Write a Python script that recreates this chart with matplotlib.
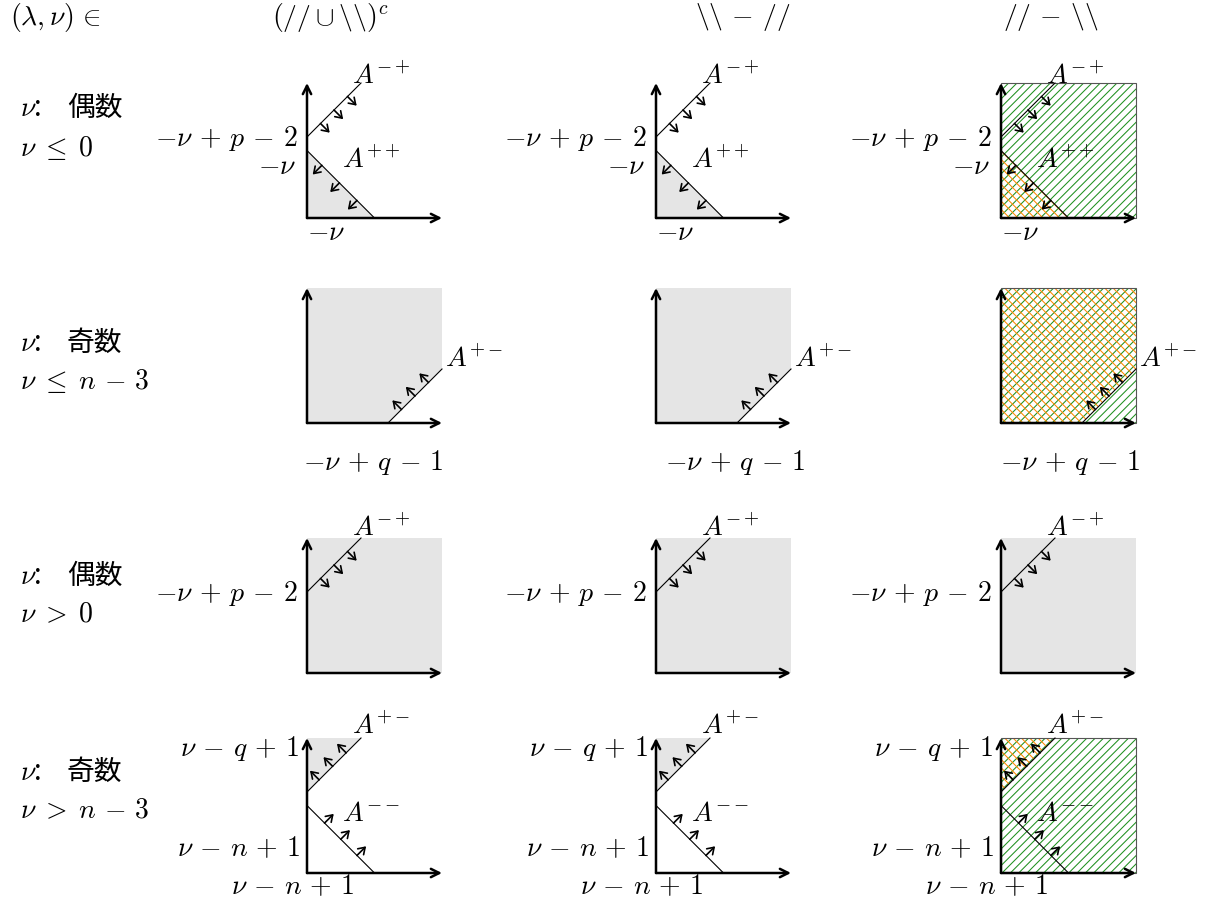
import matplotlib

matplotlib.use("Agg")

import matplotlib.pyplot as plt
from matplotlib.patches import FancyArrowPatch, Polygon, Rectangle

plt.rcParams["mathtext.fontset"] = "cm"
plt.rcParams["font.family"] = ["Noto Sans CJK JP", "DejaVu Sans"]
plt.rcParams["hatch.linewidth"] = 0.75

WIDTH, HEIGHT = 1212, 903
FONT_SIZE = 20

GRAY = "#e5e5e5"
GREEN = "#1f901f"
ORANGE = "#ff8800"

# En-têtes et libellés de lignes.
COLUMN_HEADERS = [
    r"$(//\cup\backslash\backslash)^c$",
    r"$\backslash\backslash\,-\,//$",
    r"$//\,-\,\backslash\backslash$",
]
ROW_PARITY = ["偶数", "奇数", "偶数", "奇数"]
ROW_CONDITIONS = [r"$\nu\;\leq\;0$", r"$\nu\;\leq\;n\,-\,3$",
                  r"$\nu\;>\;0$", r"$\nu\;>\;n\,-\,3$"]

# Droites des murs A^{..} dans chaque panneau (unités du carré 0..1) :
# (extrémité 1, extrémité 2, direction des petites flèches, abscisses des flèches)
ROW_WALLS = [
    [((0.0, 0.6), (0.4, 1.0), (1, -1), [0.1, 0.2, 0.3]),
     ((0.0, 0.5), (0.5, 0.0), (-1, -1), [0.11, 0.24, 0.37])],
    [((0.6, 0.0), (1.0, 0.4), (-1, 1), [0.7, 0.8, 0.9])],
    [((0.0, 0.6), (0.4, 1.0), (1, -1), [0.1, 0.2, 0.3])],
    [((0.0, 0.6), (0.4, 1.0), (-1, 1), [0.09, 0.19, 0.29]),
     ((0.0, 0.5), (0.5, 0.0), (1, 1), [0.13, 0.25, 0.37])],
]
ARROW_STEP = 0.068

# Région grisée (ou hachurée en orange dans la dernière colonne).
ROW_REGIONS = [
    [(0, 0), (0, 0.5), (0.5, 0)],
    [(0, 0), (0.6, 0), (1, 0.4), (1, 1), (0, 1)],
    [(0, 0), (1, 0), (1, 1), (0, 1)],
    [(0, 0.6), (0, 1), (0.4, 1)],
]
HATCHED_ROWS = [0, 1, 3]
HATCHED_COLUMN = 2

# Étiquettes : (texte, x, y, ha, va)
ROW_LABELS = [
    [(r"$-\nu\,+\,p\,-\,2$", -0.07, 0.6, "right", "center"),
     (r"$-\nu$", -0.08, 0.39, "right", "center"),
     (r"$-\nu$", 0.14, -0.1, "center", "center"),
     (r"$A^{-+}$", 0.33, 1.0, "left", "baseline"),
     (r"$A^{++}$", 0.26, 0.38, "left", "baseline")],
    [(r"$A^{+-}$", 1.02, 0.42, "left", "baseline")],
    [(r"$-\nu\,+\,p\,-\,2$", -0.07, 0.6, "right", "center"),
     (r"$A^{-+}$", 0.33, 1.02, "left", "baseline")],
    [(r"$\nu\,-\,q\,+\,1$", -0.06, 0.93, "right", "center"),
     (r"$\nu\,-\,n\,+\,1$", -0.05, 0.19, "right", "center"),
     (r"$\nu\,-\,n\,+\,1$", -0.11, -0.09, "center", "center"),
     (r"$A^{+-}$", 0.33, 1.04, "left", "baseline"),
     (r"$A^{--}$", 0.26, 0.39, "left", "baseline")],
]
BOTTOM_LABEL = r"$-\nu\,+\,q\,-\,1$"
BOTTOM_LABEL_ROW = 1
BOTTOM_LABEL_X = [0.49, 0.59, 0.51]

# Mise en page (pixels de l'image).
COLUMN_X = [307, 656, 1001]
ROW_Y = [219, 424, 674, 874]
SIDE = 135
HEADER_X = [330, 743, 1051]
HEADER_Y = 17
ROW_TEXT_X = 20
ROW_CJK_X = 67
ROW_TEXT_Y = [(108, 148), (343, 381), (576, 614), (772, 810)]


def fx(px):
    return px / WIDTH


def fy(py):
    return 1 - py / HEIGHT


def draw_arrow(ax, start, end, lw, scale, zorder, style="->"):
    ax.add_patch(FancyArrowPatch(
        start, end, arrowstyle=style, mutation_scale=scale, lw=lw,
        color="black", shrinkA=0, shrinkB=0, clip_on=False, zorder=zorder,
    ))


def draw_panel(fig, row, col):
    ax = fig.add_axes([fx(COLUMN_X[col]), fy(ROW_Y[row]), SIDE / WIDTH, SIDE / HEIGHT])
    ax.set_xlim(0, 1)
    ax.set_ylim(0, 1)
    ax.axis("off")

    hatched = row in HATCHED_ROWS and col == HATCHED_COLUMN
    if hatched:
        ax.add_patch(Rectangle((0, 0), 1, 1, facecolor="white", edgecolor=GREEN,
                               lw=0, hatch="////", clip_on=False, zorder=1))
        ax.add_patch(Polygon(ROW_REGIONS[row], closed=True, facecolor="none",
                             edgecolor=ORANGE, lw=0, hatch="\\\\\\\\",
                             clip_on=False, zorder=2))
        ax.add_patch(Rectangle((0, 0), 1, 1, facecolor="none", edgecolor="#555555",
                               lw=0.8, clip_on=False, zorder=3))
    else:
        ax.add_patch(Polygon(ROW_REGIONS[row], closed=True, facecolor=GRAY,
                             edgecolor="none", clip_on=False, zorder=1))

    for p1, p2, direction, xs in ROW_WALLS[row]:
        ax.plot([p1[0], p2[0]], [p1[1], p2[1]], color="black", lw=0.8,
                clip_on=False, zorder=4)
        slope = (p2[1] - p1[1]) / (p2[0] - p1[0])
        for x in xs:
            y = p1[1] + slope * (x - p1[0])
            tip = (x + direction[0] * ARROW_STEP, y + direction[1] * ARROW_STEP)
            draw_arrow(ax, (x, y), tip, lw=1.2, scale=10, zorder=5,
                       style="->,head_length=0.45,head_width=0.3")

    # axes du quadrant
    draw_arrow(ax, (0, 0), (1.0, 0), lw=1.8, scale=15, zorder=6)
    draw_arrow(ax, (0, 0), (0, 1.0), lw=1.8, scale=15, zorder=6)

    for text, x, y, ha, va in ROW_LABELS[row]:
        ax.text(x, y, text, ha=ha, va=va, fontsize=FONT_SIZE, zorder=7)
    if row == BOTTOM_LABEL_ROW:
        ax.text(BOTTOM_LABEL_X[col], -0.28, BOTTOM_LABEL, ha="center",
                va="center", fontsize=FONT_SIZE, zorder=7)


fig = plt.figure(figsize=(WIDTH / 100, HEIGHT / 100), dpi=100)

fig.text(fx(10), fy(HEADER_Y), r"$(\lambda,\nu)\,\in$", ha="left", va="center",
         fontsize=FONT_SIZE)
for x, header in zip(HEADER_X, COLUMN_HEADERS):
    fig.text(fx(x), fy(HEADER_Y), header, ha="center", va="center", fontsize=FONT_SIZE)

for (y1, y2), parity, condition in zip(ROW_TEXT_Y, ROW_PARITY, ROW_CONDITIONS):
    fig.text(fx(ROW_TEXT_X), fy(y1), r"$\nu$:", ha="left", va="center",
             fontsize=FONT_SIZE)
    fig.text(fx(ROW_CJK_X), fy(y1), parity, ha="left", va="center",
             fontsize=FONT_SIZE)
    fig.text(fx(ROW_TEXT_X), fy(y2), condition, ha="left", va="center",
             fontsize=FONT_SIZE)

for row in range(len(ROW_Y)):
    for col in range(len(COLUMN_X)):
        draw_panel(fig, row, col)

fig.savefig("out.png", dpi=100)
plt.close(fig)
